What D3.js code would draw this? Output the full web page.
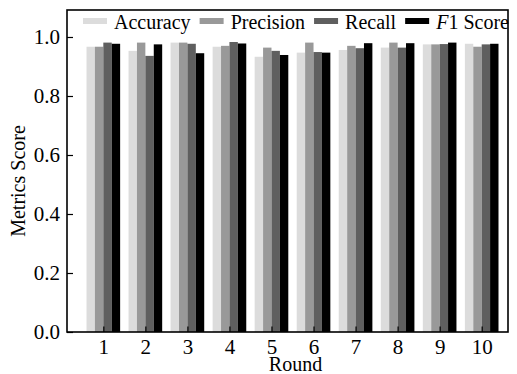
<!DOCTYPE html>
<html>
<head>
<meta charset="utf-8">
<script src="https://cdn.jsdelivr.net/npm/d3@7"></script>
<style>
  body { margin: 0; background: #fff; }
  svg { display: block; }
  text { font-family: "Liberation Serif", "Times New Roman", serif; fill: #000; }
</style>
</head>
<body>
<div id="wrapper"></div>
<script>
// Data
const rounds = [1, 2, 3, 4, 5, 6, 7, 8, 9, 10]
const accuracy  = [0.967, 0.953, 0.981, 0.967, 0.933, 0.947, 0.956, 0.964, 0.975, 0.977]
const precision = [0.967, 0.981, 0.981, 0.970, 0.964, 0.981, 0.970, 0.981, 0.975, 0.967]
const recall    = [0.981, 0.936, 0.977, 0.983, 0.953, 0.949, 0.962, 0.964, 0.976, 0.975]
const f1Score   = [0.977, 0.975, 0.945, 0.978, 0.939, 0.947, 0.979, 0.979, 0.981, 0.977]
const seriesNames = ["Accuracy", "Precision", "Recall", "F1 Score"]
const seriesColors = ["#dcdcdc", "#999999", "#5f5f5f", "#000000"]
const yTicks = [0.0, 0.2, 0.4, 0.6, 0.8, 1.0]

function drawChart() {

  // 1. Access data
  const seriesValues = [accuracy, precision, recall, f1Score]
  const dataset = []
  rounds.forEach((r, i) => {
    seriesNames.forEach((name, s) => {
      dataset.push({ round: r, series: name, value: seriesValues[s][i] })
    })
  })

  // 2. Chart dimensions
  let dimensions = {
    width: 517,
    height: 374,
    margin: { top: 10, right: 9, bottom: 42, left: 67 },
  }
  dimensions.boundedWidth = dimensions.width
    - dimensions.margin.left - dimensions.margin.right
  dimensions.boundedHeight = dimensions.height
    - dimensions.margin.top - dimensions.margin.bottom

  // 3. Canvas
  const wrapper = d3.select("#wrapper")
    .append("svg")
      .attr("width", dimensions.width)
      .attr("height", dimensions.height)

  const bounds = wrapper.append("g")
      .attr("transform", `translate(${dimensions.margin.left},${dimensions.margin.top})`)

  // 4. Scales
  const xScale = d3.scaleLinear()
    .domain([0.136, 10.626])
    .range([0, dimensions.boundedWidth])

  const barWidth = xScale(0.2) - xScale(0)
  const offsetScale = d3.scaleBand()
    .domain(seriesNames)
    .range([-2 * barWidth, 2 * barWidth])
    .padding(0)

  const yScale = d3.scaleLinear()
    .domain([0, 1.0915])
    .range([dimensions.boundedHeight, 0])

  const colorScale = d3.scaleOrdinal()
    .domain(seriesNames)
    .range(seriesColors)

  // 5. Bars
  bounds.append("g").selectAll("rect")
    .data(dataset)
    .join("rect")
      .attr("x", d => xScale(d.round) + offsetScale(d.series))
      .attr("y", d => yScale(d.value))
      .attr("width", offsetScale.bandwidth())
      .attr("height", d => yScale(0) - yScale(d.value))
      .attr("fill", d => colorScale(d.series))

  // 6. Axes (ticks point inward)
  const xAxis = bounds.append("g")
      .attr("transform", `translate(0,${dimensions.boundedHeight})`)
      .call(d3.axisBottom(xScale).tickValues(rounds).tickFormat(d3.format("d"))
        .tickSizeInner(-5.5).tickSizeOuter(0).tickPadding(7))
  xAxis.select(".domain").remove()
  xAxis.selectAll("line").attr("stroke-width", 1.2)
  xAxis.selectAll("text").style("font-size", "21px")

  const yAxis = bounds.append("g")
      .call(d3.axisLeft(yScale).tickValues(yTicks).tickFormat(d3.format(".1f"))
        .tickSizeInner(-6).tickSizeOuter(0).tickPadding(7))
  yAxis.select(".domain").remove()
  yAxis.selectAll("line").attr("stroke-width", 1.2)
  yAxis.selectAll("text").style("font-size", "21px")

  // frame
  bounds.append("rect")
      .attr("width", dimensions.boundedWidth)
      .attr("height", dimensions.boundedHeight)
      .attr("fill", "none")
      .attr("stroke", "#000")
      .attr("stroke-width", 1.6)

  // axis labels
  wrapper.append("text")
      .attr("x", dimensions.margin.left + dimensions.boundedWidth / 2 + 8)
      .attr("y", dimensions.height - 3)
      .attr("text-anchor", "middle")
      .style("font-size", "20px")
      .text("Round")

  wrapper.append("text")
      .attr("transform", `translate(25,${dimensions.margin.top + dimensions.boundedHeight / 2 + 10}) rotate(-90)`)
      .attr("text-anchor", "middle")
      .style("font-size", "20px")
      .text("Metrics Score")

  // 7. Legend
  const legend = wrapper.append("g")
  const patchW = 24, patchH = 6, gap = 7, colSpacing = 9
  let lx = 83
  seriesNames.forEach((name, i) => {
    const item = legend.append("g").attr("transform", `translate(${lx},0)`)
    item.append("rect")
        .attr("x", 0).attr("y", 18)
        .attr("width", patchW).attr("height", patchH)
        .attr("fill", colorScale(name))
    const label = item.append("text")
        .attr("x", patchW + gap)
        .attr("y", 29)
        .style("font-size", "20px")
    if (name === "F1 Score") {
      label.append("tspan").style("font-style", "italic").text("F")
      label.append("tspan").text("1 Score")
    } else {
      label.text(name)
    }
    lx += patchW + gap + label.node().getComputedTextLength() + colSpacing
  })
}
drawChart()
</script>
</body>
</html>
